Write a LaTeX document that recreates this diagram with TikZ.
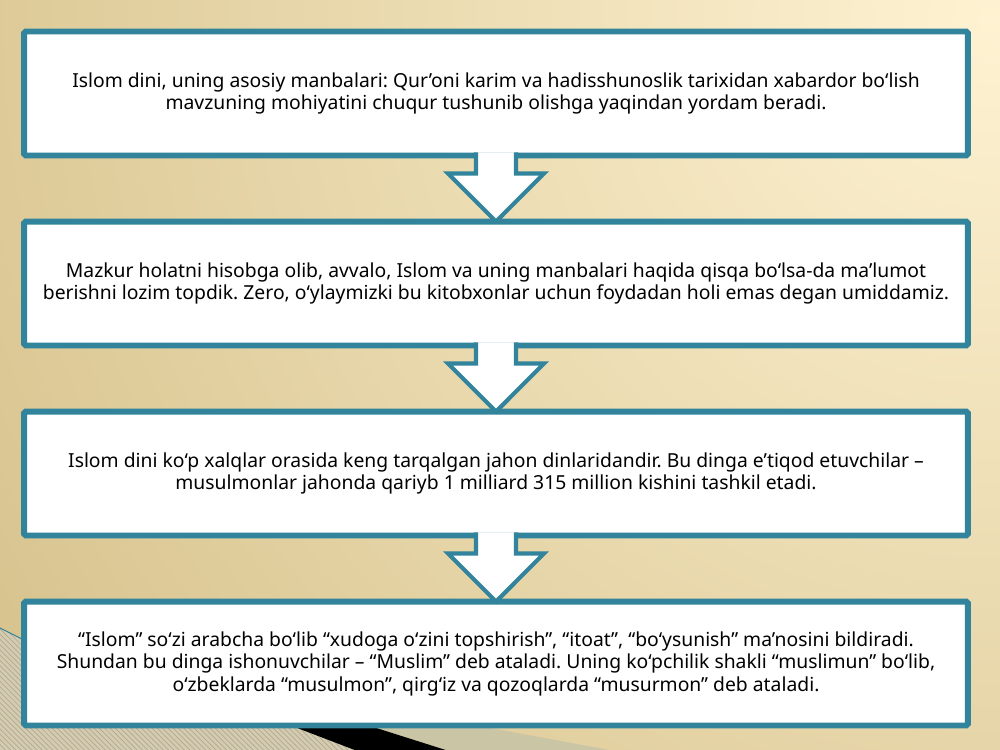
\documentclass[tikz,border=0pt]{standalone}
\usepackage{fontspec}
\setmainfont{Noto Sans}
\usepackage{tikz}
\usetikzlibrary{calc, patterns}

\definecolor{boxteal}{RGB}{49,132,155}
\definecolor{bgtan}{RGB}{216,196,143}
\definecolor{bgcream}{RGB}{254,242,210}
\definecolor{stripebg}{RGB}{212,204,178}
\definecolor{stripeln}{RGB}{178,168,140}
\definecolor{greybeige}{RGB}{202,197,165}

\tikzset{
    infobox/.style={draw=boxteal, line width=3.4pt, fill=white, rounded corners=1pt,
        minimum width=18.88cm, minimum height=2.48cm, inner sep=0pt, outer sep=0pt,
        align=center, font=\fontsize{11}{12.8}\selectfont\frenchspacing},
    downarrow/.style={draw=boxteal, line width=2.4pt, fill=white, line join=miter}
}

\begin{document}
\begin{tikzpicture}[x=0.02cm, y=-0.02cm]
    \useasboundingbox (0,0) rectangle (1000,750);

    % background
    \fill[bgtan] (0,0) rectangle (1000,750);
    \begin{scope}
        \clip (0,0) rectangle (1000,750);
        \shade[inner color=bgcream, outer color=bgtan] (990,20) circle (1150);
    \end{scope}
    \fill[stripebg] (0,628) -- (200,726) -- (300,726) -- (360,752) -- (0,752) -- cycle;
    \fill[pattern=north west lines, pattern color=stripeln] (0,628) -- (200,726) -- (300,726) -- (360,752) -- (0,752) -- cycle;
    \draw[boxteal, line width=0.6pt] (0,628) -- (40,648);
    \fill[greybeige] (370,726) -- (480,726) -- (620,752) -- (452,752) -- cycle;
    \fill[black] (292,726) -- (370,726) -- (452,752) -- (360,752) -- cycle;

    % boxes
    \node[infobox] at (496,93.5) (b1) {Islom dini, uning asosiy manbalari: Qur’oni karim va hadisshunoslik tarixidan xabardor bo‘lish\\ mavzuning mohiyatini chuqur tushunib olishga yaqindan yordam beradi.};
    \node[infobox] at (496,283.5) (b2) {Mazkur holatni hisobga olib, avvalo, Islom va uning manbalari haqida qisqa bo‘lsa-da ma’lumot\\ berishni lozim topdik. Zero, o‘ylaymizki bu kitobxonlar uchun foydadan holi emas degan umiddamiz.};
    \node[infobox] at (496,473.5) (b3) {Islom dini ko‘p xalqlar orasida keng tarqalgan jahon dinlaridandir. Bu dinga e’tiqod etuvchilar –\\ musulmonlar jahonda qariyb 1 milliard 315 million kishini tashkil etadi.};
    \node[infobox] at (496,663.5) (b4) {“Islom” so‘zi arabcha bo‘lib “xudoga o‘zini topshirish”, “itoat”, “bo‘ysunish” ma’nosini bildiradi.\\ Shundan bu dinga ishonuvchilar – “Muslim” deb ataladi. Uning ko‘pchilik shakli “muslimun” bo‘lib,\\ o‘zbeklarda “musulmon”, qirg‘iz va qozoqlarda “musurmon” deb ataladi.};

    % arrows between boxes
    \foreach \a/\b in {b1/b2, b2/b3, b3/b4} {
        \draw[downarrow] ($(\a.south)+(-20,-3)$) -- ($(\a.south)+(-20,18)$) -- ($(\a.south)+(-48,18)$)
            -- (\b.north) -- ($(\a.south)+(48,18)$) -- ($(\a.south)+(20,18)$) -- ($(\a.south)+(20,-3)$);
    }
\end{tikzpicture}
\end{document}
